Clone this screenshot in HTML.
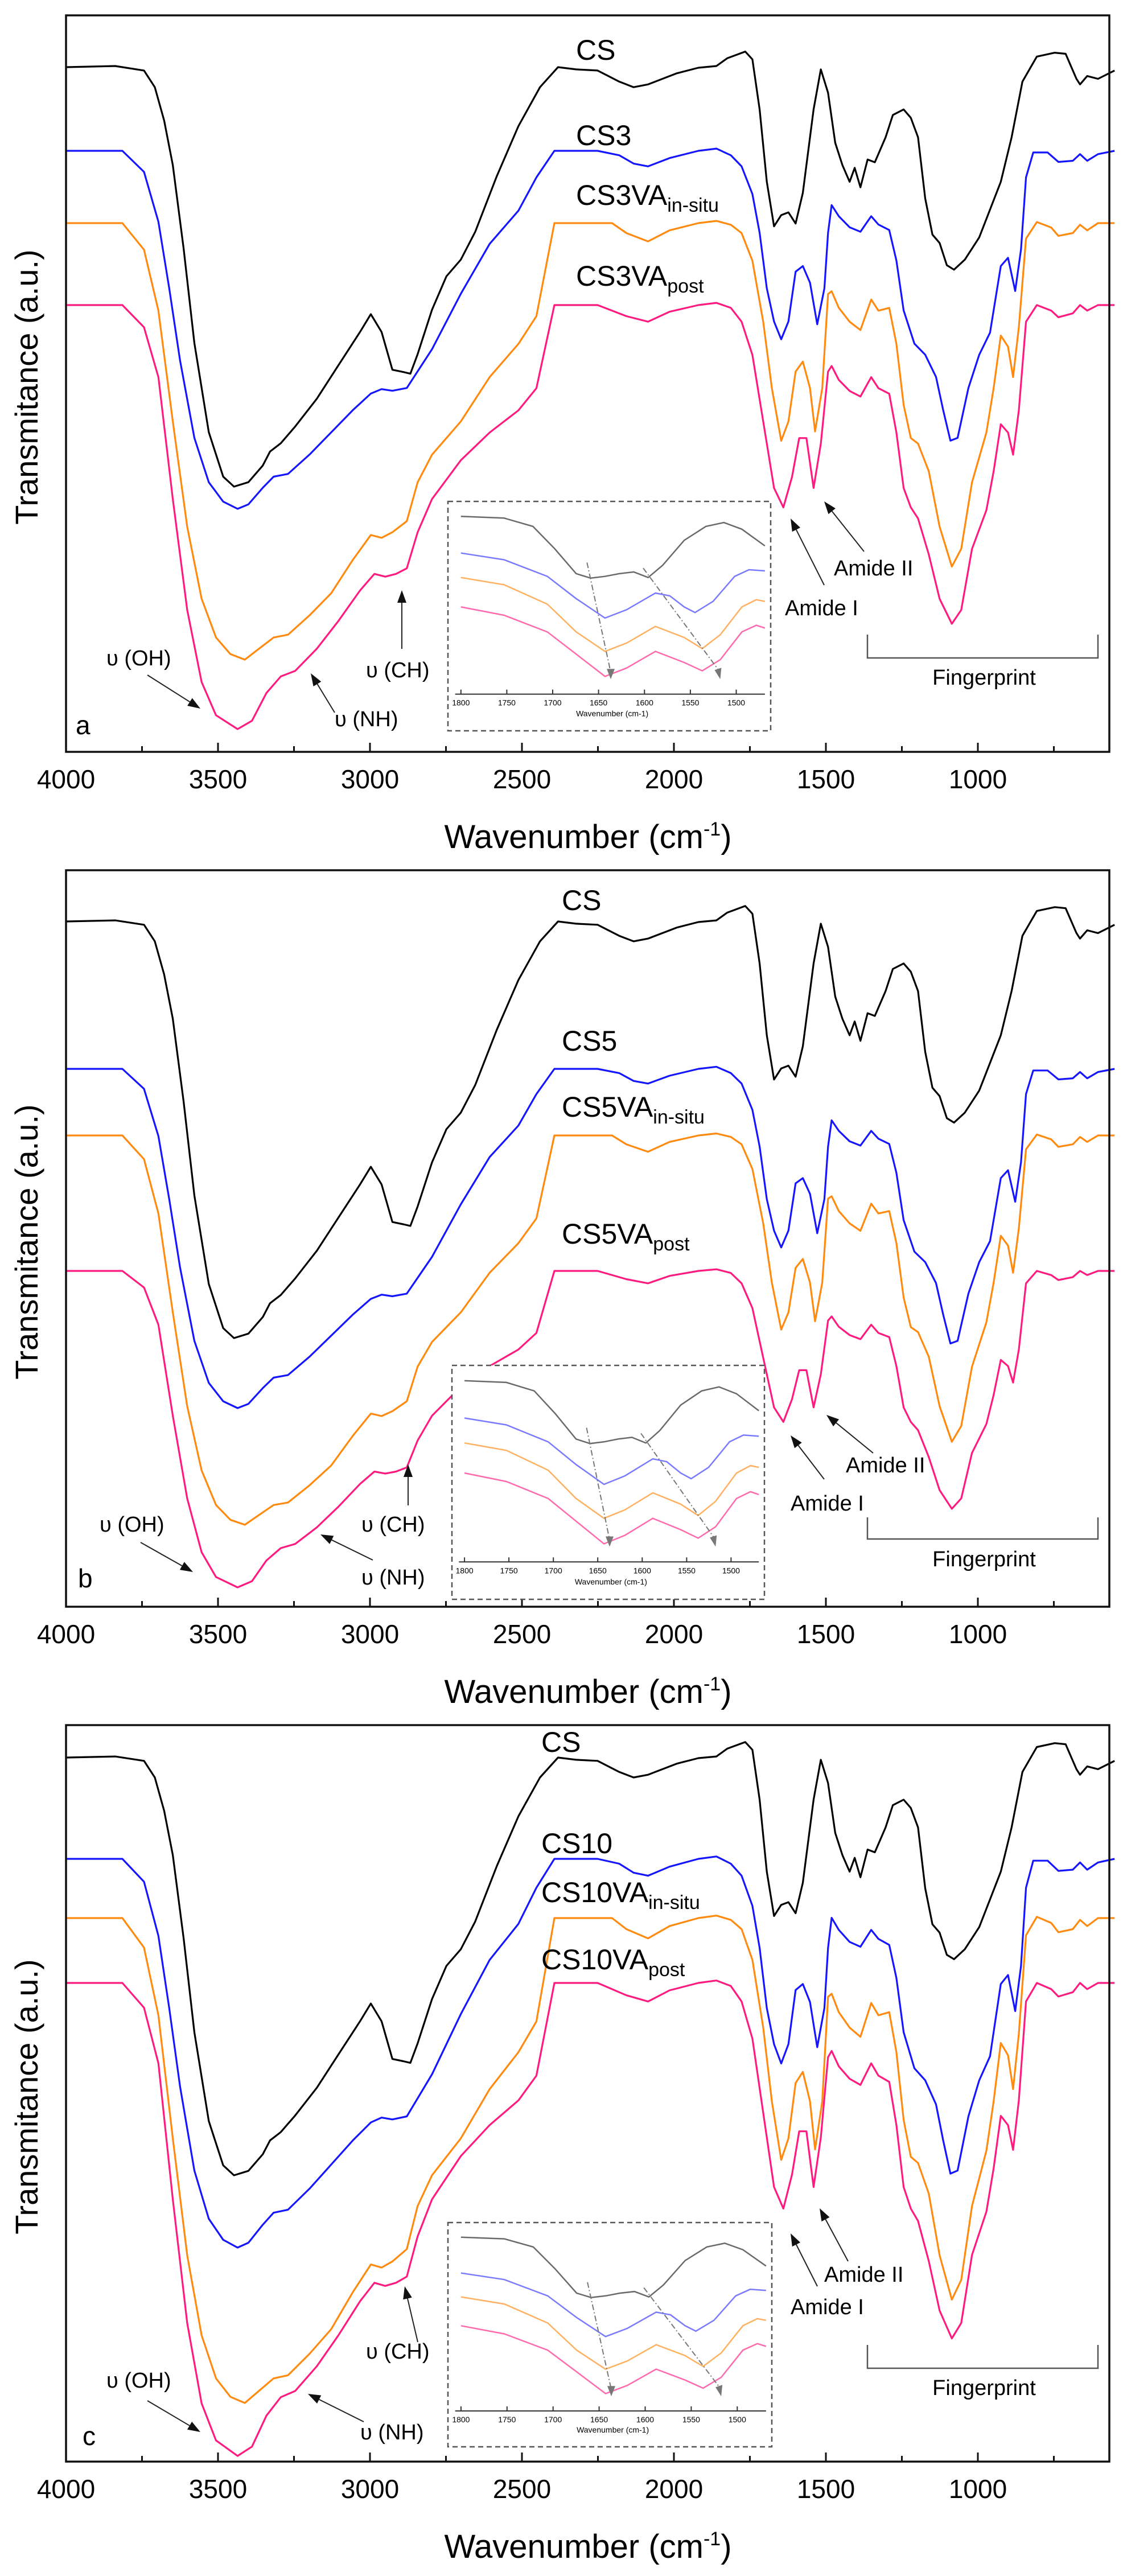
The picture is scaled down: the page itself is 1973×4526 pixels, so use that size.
<!DOCTYPE html>
<html><head><meta charset="utf-8"><style>
html,body{margin:0;padding:0;background:#fff}
svg{display:block}
text{font-family:"Liberation Sans",Arial,sans-serif}
</style></head><body>
<svg id="s" width="1973" height="4526" viewBox="0 0 1973 4526" xmlns="http://www.w3.org/2000/svg"></svg>
<script>
const S=document.getElementById('s');let H='';
const X0=116,X1=1949,PX=0.534;
const shapes={
k:[[92,124],[160,122],[200,130],[215,160],[228,220],[240,300],[255,450],[270,620],[290,780],[310,860],[325,878],[345,870],[365,840],[375,815],[390,800],[410,770],[440,720],[470,660],[500,600],[515,568],[530,600],[545,668],[560,672],[570,675],[580,640],[600,560],[620,500],[640,470],[660,420],[690,320],[720,230],[750,160],[775,124],[800,128],[830,130],[860,150],[880,160],[900,155],[940,135],[970,125],[995,122],[1010,108],[1035,96],[1045,110],[1055,200],[1065,330],[1075,410],[1085,390],[1095,385],[1105,405],[1115,350],[1130,200],[1140,128],[1150,170],[1160,260],[1170,300],[1180,330],[1187,305],[1195,340],[1205,290],[1215,295],[1230,250],[1240,210],[1255,200],[1265,215],[1275,250],[1285,360],[1295,425],[1305,440],[1315,480],[1325,488],[1340,470],[1360,430],[1375,380],[1390,330],[1405,250],[1420,150],[1440,105],[1465,98],[1480,100],[1495,145],[1500,155],[1510,140],[1525,145],[1548,130]],
b:[[92,272],[170,272],[200,310],[220,400],[235,520],[250,650],[270,790],[290,870],[310,905],[330,918],[345,910],[365,880],[380,860],[400,855],[430,820],[460,780],[490,740],[515,710],[530,702],[545,705],[565,700],[580,670],[600,630],[640,530],[680,440],[720,380],[745,320],[770,272],[830,272],[860,280],[880,295],[900,300],[930,285],[970,272],[995,268],[1015,280],[1030,300],[1045,350],[1055,420],[1065,520],[1075,580],[1085,612],[1095,580],[1105,490],[1115,480],[1125,510],[1135,585],[1145,520],[1150,420],[1155,370],[1165,390],[1180,410],[1195,418],[1210,390],[1220,405],[1235,415],[1245,470],[1255,560],[1270,620],[1285,640],[1300,680],[1310,740],[1320,795],[1330,790],[1345,700],[1360,640],[1375,600],[1390,480],[1400,465],[1410,525],[1418,450],[1425,320],[1435,275],[1455,275],[1470,292],[1490,290],[1500,278],[1510,290],[1525,278],[1548,272]],
o:[[92,402],[170,402],[200,450],[220,560],[240,760],[260,950],[280,1080],[300,1150],[320,1180],[340,1190],[360,1170],[380,1150],[400,1145],[430,1110],[460,1070],[490,1010],[515,965],[530,970],[545,960],[565,940],[580,870],[600,820],[640,760],[680,680],[720,620],[745,570],[770,402],[850,402],[870,420],[900,435],[930,415],[970,402],[995,398],[1015,405],[1030,420],[1045,470],[1060,580],[1072,700],[1085,795],[1095,760],[1105,670],[1115,652],[1125,700],[1132,778],[1142,700],[1150,530],[1155,525],[1165,555],[1180,580],[1195,595],[1210,540],[1220,560],[1235,555],[1245,620],[1255,730],[1265,790],[1275,800],[1290,850],[1305,950],[1322,1022],[1335,990],[1350,870],[1370,780],[1380,700],[1390,605],[1400,625],[1407,680],[1415,590],[1425,430],[1440,400],[1460,410],[1470,425],[1490,420],[1500,405],[1510,415],[1525,402],[1548,402]],
p:[[92,550],[170,550],[200,590],[220,680],[240,900],[260,1100],[280,1230],[300,1290],[330,1315],[350,1300],[370,1250],[390,1220],[410,1210],[440,1170],[470,1120],[500,1065],[520,1035],[535,1040],[550,1035],[565,1025],[580,960],[600,900],[640,830],[680,780],[720,740],[745,700],[770,550],[830,550],[870,570],[900,580],[930,562],[970,550],[995,546],[1015,555],[1030,580],[1045,640],[1060,760],[1075,880],[1088,915],[1100,860],[1110,790],[1120,790],[1130,880],[1140,800],[1150,670],[1155,660],[1165,685],[1180,705],[1195,715],[1210,680],[1220,700],[1235,710],[1245,780],[1255,880],[1265,915],[1275,935],[1290,1000],[1305,1080],[1322,1125],[1335,1100],[1350,990],[1370,920],[1380,850],[1390,765],[1400,780],[1407,820],[1415,740],[1425,580],[1440,550],[1460,560],[1470,572],[1490,565],[1500,550],[1510,560],[1525,550],[1548,550]]};
const abase={k:[124,878],b:[272,918],o:[402,1190],p:[550,1315]};
const cols={k:'#000',b:'#1515ff',o:'#ff8a10',p:'#ff1a80'};
const icols={k:'#6a6a6a',b:'#7a7aff',o:'#ffb060',p:'#ff6aac'};
const panels=[
{off:0,lab:'a',rng:{k:[118,855],b:[265,894],o:[392,1159],p:[536,1281]},names:['CS','CS3','CS3VA','CS3VA'],
 ny:[105,255,360,502],nx:1012,box:[787,881,1354,1284],
 ann:{oh:[187,1169,259,1186,352,1245],nh:[588,1276,588,1252,546,1183],ch:[643,1190,706,1140,706,1037],a1:[1379,1081,1448,1028,1389,911],a2:[1465,1011,1518,969,1448,881],fp:[1156,1115,1203],L:[133,1290]}},
{off:1502,lab:'b',rng:{k:[117,849],b:[376,972],o:[493,1177],p:[731,1287]},names:['CS','CS5','CS5VA','CS5VA'],
 ny:[97,344,460,683],nx:987,box:[794,897,1343,1308],
 ann:{oh:[175,1189,247,1208,339,1260],nh:[635,1282,655,1239,563,1194],ch:[635,1189,717,1143,717,1071],a1:[1389,1152,1448,1097,1389,1020],a2:[1486,1085,1534,1051,1452,984],fp:[1202,1164,1250],L:[137,1287]}},
{off:3004,lab:'c',rng:{k:[84,818],b:[262,945],o:[366,1218],p:[480,1311]},names:['CS','CS10','CS10VA','CS10VA'],
 ny:[74,252,338,456],nx:951,box:[787,901,1356,1295],
 ann:{oh:[187,1191,259,1214,352,1269],nh:[633,1282,639,1251,541,1202],ch:[643,1140,734,1111,711,1013],a1:[1389,1062,1436,1013,1389,920],a2:[1448,1005,1490,969,1440,876],fp:[1157,1116,1204],L:[145,1292]}}];
const inset={
k:[[640,932],[700,935],[740,950],[770,990],[800,1035],[820,1043],[840,1040],[860,1035],[880,1032],[900,1042],[920,1020],[950,975],[980,950],[1005,943],[1030,955],[1062,985]],
b:[[640,998],[700,1010],[760,1040],[800,1080],[840,1115],[870,1100],[910,1070],[930,1075],[950,1095],[965,1105],[990,1085],[1020,1040],[1040,1028],[1062,1030]],
o:[[640,1042],[700,1055],[760,1090],[800,1140],[840,1175],[870,1160],[910,1130],[950,1150],[975,1170],[1000,1145],[1030,1095],[1050,1082],[1062,1085]],
p:[[640,1095],[700,1110],[760,1140],[800,1180],[840,1220],[870,1205],[910,1175],[950,1195],[975,1210],[1000,1190],[1030,1140],[1050,1128],[1062,1133]]};
function arrow(x1,y1,x2,y2){const a=Math.atan2(y2-y1,x2-x1),L=22,w=8;
 const bx=x2-L*Math.cos(a),by=y2-L*Math.sin(a);
 H+=`<line x1="${x1}" y1="${y1}" x2="${bx}" y2="${by}" stroke="#222" stroke-width="2"/>`;
 H+=`<polygon points="${x2},${y2} ${bx+w*Math.sin(a)},${by-w*Math.cos(a)} ${bx-w*Math.sin(a)},${by+w*Math.cos(a)}" fill="#111"/>`;}
panels.forEach(P=>{
 const o=P.off,top=o+27,bot=o+1321;
 // curves
 for(const c of ['k','b','o','p']){const [ba,ma]=abase[c],[bp,mp]=P.rng[c];
  const pts=shapes[c].map(([x,y])=>{const ya=y*0.974,b0=ba*0.974,m0=ma*0.974;
   const yy=bp+(ya-b0)*(mp-bp)/(m0-b0);return (x*1.265).toFixed(1)+','+(o+yy).toFixed(1)}).join(' ');
  H+=`<polyline points="${pts}" fill="none" stroke="${cols[c]}" stroke-width="3.2" stroke-linejoin="round"/>`;}
 // box
 H+=`<rect x="${X0}" y="${top}" width="${X1-X0}" height="${bot-top}" fill="none" stroke="#111" stroke-width="3.5"/>`;
 for(let w=4000;w>=600;w-=250){const x=X0+(4000-w)*PX,maj=w%500==0;
  H+=`<line x1="${x}" y1="${bot}" x2="${x}" y2="${bot-(maj?16:10)}" stroke="#111" stroke-width="3"/>`;
  if(maj&&w>=1000)H+=`<text x="${x}" y="${o+1385}" font-size="46" text-anchor="middle">${w}</text>`;}
 H+=`<text x="1033" y="${o+1490}" font-size="58" text-anchor="middle">Wavenumber (cm<tspan dy="-22" font-size="34">-1</tspan><tspan dy="22">)</tspan></text>`;
 H+=`<text transform="translate(66,${o+680}) rotate(-90)" font-size="56" text-anchor="middle">Transmitance (a.u.)</text>`;
 // names
 const n=P.names;
 H+=`<text x="${P.nx}" y="${o+P.ny[0]}" font-size="50">${n[0]}</text>`;
 H+=`<text x="${P.nx}" y="${o+P.ny[1]}" font-size="50">${n[1]}</text>`;
 H+=`<text x="${P.nx}" y="${o+P.ny[2]}" font-size="50">${n[2]}<tspan dy="12" font-size="34">in-situ</tspan></text>`;
 H+=`<text x="${P.nx}" y="${o+P.ny[3]}" font-size="50">${n[3]}<tspan dy="12" font-size="34">post</tspan></text>`;
 // annotations
 const A=P.ann,fs=38;
 H+=`<text x="${A.oh[0]}" y="${o+A.oh[1]}" font-size="${fs}">υ (OH)</text>`;arrow(A.oh[2],o+A.oh[3],A.oh[4],o+A.oh[5]);
 H+=`<text x="${A.nh[0]}" y="${o+A.nh[1]}" font-size="${fs}">υ (NH)</text>`;arrow(A.nh[2],o+A.nh[3],A.nh[4],o+A.nh[5]);
 H+=`<text x="${A.ch[0]}" y="${o+A.ch[1]}" font-size="${fs}">υ (CH)</text>`;arrow(A.ch[2],o+A.ch[3],A.ch[4],o+A.ch[5]);
 H+=`<text x="${A.a1[0]}" y="${o+A.a1[1]}" font-size="${fs}">Amide I</text>`;arrow(A.a1[2],o+A.a1[3],A.a1[4],o+A.a1[5]);
 H+=`<text x="${A.a2[0]}" y="${o+A.a2[1]}" font-size="${fs}">Amide II</text>`;arrow(A.a2[2],o+A.a2[3],A.a2[4],o+A.a2[5]);
 const f=A.fp;H+=`<polyline points="1524,${o+f[1]} 1524,${o+f[0]} 1929,${o+f[0]} 1929,${o+f[1]}" fill="none" stroke="#555" stroke-width="2.5"/>`;
 H+=`<text x="1729" y="${o+f[2]}" font-size="${fs}" text-anchor="middle">Fingerprint</text>`;
 H+=`<text x="${A.L[0]}" y="${o+A.L[1]}" font-size="46">${P.lab}</text>`;
 // inset
 const [bx0,by0,bx1,by1]=P.box,sx=(bx1-bx0)/448,sy=(by1-by0)/413;
 const m=(x,y)=>[(bx0+(x-622)*sx).toFixed(1),(o+by0+(y-905)*sy).toFixed(1)];
 H+=`<rect x="${bx0}" y="${o+by0}" width="${bx1-bx0}" height="${by1-by0}" fill="#fff" stroke="#555" stroke-width="2.5" stroke-dasharray="9,6"/>`;
 for(const c of ['k','b','o','p'])H+=`<polyline points="${inset[c].map(p=>m(...p).join(',')).join(' ')}" fill="none" stroke="${icols[c]}" stroke-width="2.5"/>`;
 const [ax0,ay]=m(632,1252),[ax1]=m(1062,1252);
 H+=`<line x1="${ax0}" y1="${ay}" x2="${ax1}" y2="${ay}" stroke="#333" stroke-width="2"/>`;
 [1800,1750,1700,1650,1600,1550,1500].forEach((w,i)=>{const [tx]=m(640+i*63.7,0);
  H+=`<line x1="${tx}" y1="${ay}" x2="${tx}" y2="${ay-8}" stroke="#333" stroke-width="2"/><text x="${tx}" y="${+ay+20}" font-size="14" text-anchor="middle">${w}</text>`;});
 const [lx,ly]=m(850,1292);H+=`<text x="${lx}" y="${ly}" font-size="14" text-anchor="middle">Wavenumber (cm-1)</text>`;
 const d1=m(815,1015),d2=m(848,1225),d3=m(893,1025),d4=m(1000,1225);
 H+=`<line x1="${d1[0]}" y1="${d1[1]}" x2="${d2[0]}" y2="${d2[1]-12}" stroke="#777" stroke-width="2" stroke-dasharray="10,4,2,4"/>`;
 H+=`<line x1="${d3[0]}" y1="${d3[1]}" x2="${d4[0]}" y2="${d4[1]-12}" stroke="#777" stroke-width="2" stroke-dasharray="10,4,2,4"/>`;
 H+=`<polygon points="${d2[0]},${d2[1]} ${d2[0]-7},${d2[1]-18} ${+d2[0]+7},${d2[1]-18}" fill="#777"/>`;
 H+=`<polygon points="${d4[0]},${d4[1]} ${d4[0]-10},${d4[1]-16} ${+d4[0]+2},${d4[1]-20}" fill="#777"/>`;
});
S.innerHTML=H;
</script>
</body></html>
